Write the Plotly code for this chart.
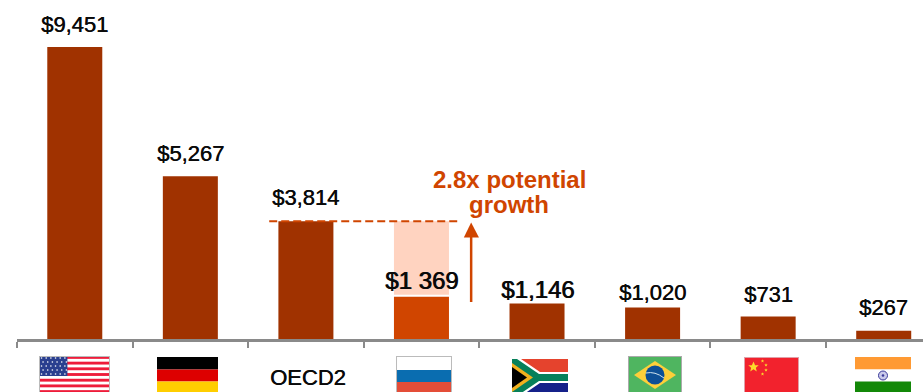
import base64
import plotly.graph_objects as go

# Spending per capita by country, with the OECD average as the reference level
categories = ["USA", "Germany", "OECD2", "Russia", "South Africa", "Brazil", "China", "India"]
values = [9451, 5267, 3814, 1369, 1146, 1020, 731, 267]
value_labels = ["$9,451", "$5,267", "$3,814", "$1 369", "$1,146", "$1,020", "$731", "$267"]
bold_labels = ["$1 369", "$1,146"]
highlight = "Russia"
benchmark = "OECD2"
callout_lines = ["2.8x potential", "growth"]

WIDTH, HEIGHT = 923, 392
LEFT, BASE = 17, 339
SLOT = 115.6
PX_PER_UNIT = 0.0309
BROWN, ORANGE, PALE = "#a03200", "#d04500", "#ffd3c0"

X_END = (WIDTH - 74.5) / SLOT


def px_x(px):
    return (px - 74.5) / SLOT


def px_y(py):
    return (BASE - py) / PX_PER_UNIT


positions = list(range(len(categories)))
bench_value = values[categories.index(benchmark)]
hi_index = categories.index(highlight)

bar_colors = [ORANGE if c == highlight else BROWN for c in categories]

fig = go.Figure()
fig.add_bar(x=positions, y=values, width=0.476, marker=dict(color=bar_colors, line_width=0))
fig.add_bar(
    x=[hi_index],
    y=[bench_value - values[hi_index] - 2 / PX_PER_UNIT],
    base=[values[hi_index] + 2 / PX_PER_UNIT],
    width=0.476,
    marker=dict(color=PALE, line_width=0),
)


def svg_uri(w, h, body):
    svg = f'<svg xmlns="http://www.w3.org/2000/svg" viewBox="0 0 {w} {h}" preserveAspectRatio="none">{body}</svg>'
    return "data:image/svg+xml;base64," + base64.b64encode(svg.encode()).decode()


def usa():
    body = '<rect width="70" height="37" fill="#fff"/>'
    for i in range(0, 13, 2):
        body += f'<rect y="{i * 37 / 13:.2f}" width="70" height="{37 / 13:.2f}" fill="#ee1c3a"/>'
    body += '<rect width="28" height="20" fill="#2a3f8f"/>'
    for r in range(5):
        for c in range(6):
            body += f'<circle cx="{2.5 + c * 4.6 + (r % 2) * 1.5:.1f}" cy="{2 + r * 4}" r="0.8" fill="#fff"/>'
    return svg_uri(70, 37, body + '<rect x=".5" y=".5" width="69" height="36" fill="none" stroke="#bbb"/>')


def germany():
    return svg_uri(61, 37, '<rect width="61" height="12.5" fill="#000"/>'
                           '<rect y="12.5" width="61" height="12" fill="#dd0000"/>'
                           '<rect y="24.5" width="61" height="12.5" fill="#ffce00"/>')


def russia():
    return svg_uri(55, 37, '<rect width="55" height="14" fill="#fff"/>'
                           '<rect y="14" width="55" height="12" fill="#0a6db0"/>'
                           '<rect y="26" width="55" height="11" fill="#e44d38"/>'
                           '<rect x=".5" y=".5" width="54" height="36" fill="none" stroke="#bbb"/>')


def south_africa():
    return svg_uri(56, 37, '<rect width="56" height="18.5" fill="#e5432d"/>'
                           '<rect y="18.5" width="56" height="18.5" fill="#15218a"/>'
                           '<path d="M0 0 L9 0 L28 13 L56 13 L56 24 L28 24 L9 37 L0 37 Z" fill="#fff"/>'
                           '<path d="M0 0 L5 0 L27 15 L56 15 L56 22 L27 22 L5 37 L0 37 Z" fill="#07805a"/>'
                           '<path d="M0 4 L21 18.5 L0 33 Z" fill="#f2b01e"/>'
                           '<path d="M0 8 L15 18.5 L0 29 Z" fill="#000"/>')


def brazil():
    return svg_uri(54, 37, '<rect width="54" height="37" fill="#4fb560"/>'
                           '<path d="M27 5 L48 19 L27 33 L6 19 Z" fill="#fdcf3a"/>'
                           '<circle cx="27" cy="19" r="9.5" fill="#0d4f96"/>'
                           '<path d="M18 17 Q27 15 36 22" fill="none" stroke="#cfe3ee" stroke-width="1"/>'
                           '<rect x=".5" y=".5" width="53" height="36" fill="none" stroke="#aaa"/>')


def china():
    star = '<path transform="translate({x} {y}) scale({s})" d="M0 -1 L.29 -.31 L.95 -.31 L.43 .12 L.59 .81 L0 .4 L-.59 .81 L-.43 .12 L-.95 -.31 L-.29 -.31 Z" fill="#fcd92a"/>'
    body = '<rect width="55" height="37" fill="#f2222d"/>'
    body += star.format(x=9.5, y=10, s=5.5)
    for x, y in [(18.5, 4), (22, 8), (22, 13), (18.5, 17)]:
        body += star.format(x=x, y=y, s=1.8)
    return svg_uri(55, 37, body + '<rect x=".5" y=".5" width="54" height="36" fill="none" stroke="#e0a0a8"/>')


def india():
    return svg_uri(56, 37, '<rect width="56" height="12.5" fill="#ff9a33"/>'
                           '<rect y="12.5" width="56" height="12" fill="#fff"/>'
                           '<rect y="24.5" width="56" height="12.5" fill="#138808"/>'
                           '<circle cx="28" cy="18.5" r="4.5" fill="#c9c9ea" stroke="#3a3a9a" stroke-width="1"/>'
                           '<circle cx="28" cy="18.5" r="1.3" fill="#3a3a9a"/>')


# Flags hang below the axis, placed in page pixels: (builder, left, top, width)
flags = [(usa, 39, 356, 71), (germany, 157, 357, 61), (russia, 396, 356, 56),
         (south_africa, 512, 359, 56), (brazil, 628, 356, 54), (china, 744, 357, 55), (india, 855, 357, 56)]
plot_w = WIDTH - LEFT
images = [
    dict(source=b(), xref="paper", yref="paper", x=(l - LEFT) / plot_w, y=(BASE - t) / BASE,
         sizex=w / plot_w, sizey=37 / BASE, xanchor="left", yanchor="top", sizing="stretch", layer="above")
    for b, l, t, w in flags
]

# A hairline shadow gives the labels their slightly heavy look
HEAVY = "0.4px 0 0 #0a0a0a"
label_center_py = [24, 153, 197, 280, 289, 292, 294, 307]
annotations = []
for i, (text, py) in enumerate(zip(value_labels, label_center_py)):
    is_bold = text in bold_labels
    annotations.append(dict(
        x=i, y=px_y(py), xref="x", yref="y", text=text, showarrow=False, xanchor="center", yanchor="middle",
        font=dict(family="Liberation Sans", size=24 if is_bold else 22, color="#0a0a0a",
                  shadow="0.8px 0 0 #0a0a0a" if is_bold else HEAVY),
    ))
annotations.append(dict(
    x=(308 - LEFT) / plot_w, y=(BASE - 377) / BASE, xref="paper", yref="paper", text=benchmark,
    showarrow=False, xanchor="center", yanchor="middle",
    font=dict(family="Liberation Sans", size=22, color="#0a0a0a", shadow=HEAVY),
))
for line, py in zip(callout_lines, [179, 204]):
    annotations.append(dict(
        x=px_x(509), y=px_y(py), xref="x", yref="y", text=line, showarrow=False, xanchor="center", yanchor="middle",
        font=dict(family="Liberation Sans", size=24, color=ORANGE, weight="bold"),
    ))

head = f"M {px_x(471)} {px_y(222.5)} L {px_x(478.8)} {px_y(237.5)} L {px_x(463.7)} {px_y(237.5)} Z"
shapes = [
    dict(type="line", xref="x", yref="y", x0=px_x(269), x1=px_x(458), y0=bench_value, y1=bench_value,
         line=dict(color=ORANGE, width=2, dash="8px,4px")),
    dict(type="line", xref="x", yref="y", x0=px_x(471), x1=px_x(471), y0=px_y(302), y1=px_y(236),
         line=dict(color=ORANGE, width=2.5)),
    dict(type="path", xref="x", yref="y", path=head, fillcolor=ORANGE, line_width=0),
]

fig.update_layout(
    width=WIDTH, height=HEIGHT, barmode="overlay", showlegend=False,
    margin=dict(l=LEFT, r=0, t=0, b=HEIGHT - BASE, pad=0),
    paper_bgcolor="white", plot_bgcolor="white",
    images=images, annotations=annotations, shapes=shapes,
    xaxis=dict(range=[-0.5, X_END], tickmode="array", tickvals=[p - 0.5 for p in positions], ticktext=[""] * len(positions),
               ticks="outside", ticklen=6, tickwidth=2, tickcolor="#8a8a8a", showline=True, linecolor="#8a8a8a",
               linewidth=3, showgrid=False, zeroline=False, fixedrange=True),
    yaxis=dict(range=[0, BASE / PX_PER_UNIT], visible=False, showgrid=False, zeroline=False, fixedrange=True),
)

fig.write_html("out.html", config={"displayModeBar": False})
